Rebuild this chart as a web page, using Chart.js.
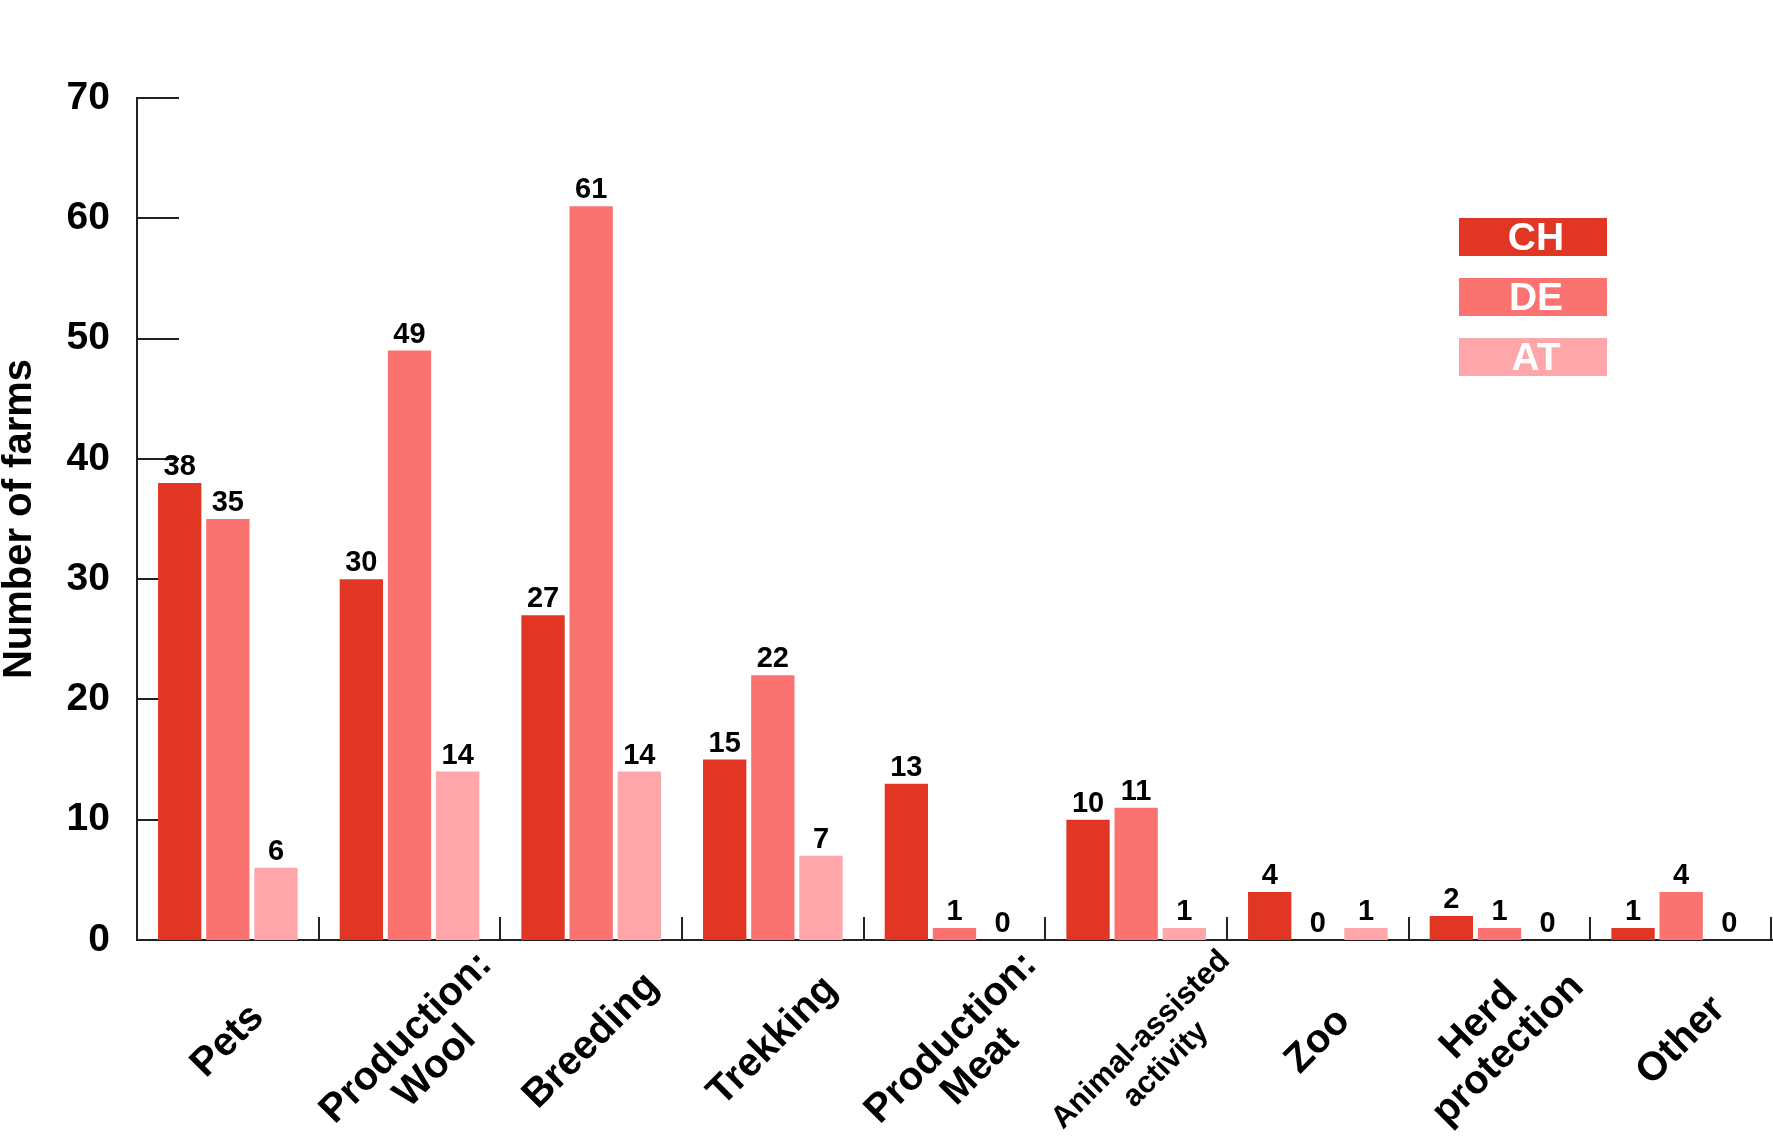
<!DOCTYPE html>
<html>
<head>
<meta charset="utf-8">
<script src="https://cdn.jsdelivr.net/npm/chart.js@4.4.1/dist/chart.umd.min.js"></script>
<style>
  html, body { margin: 0; padding: 0; background: #fff; }
  #wrap { width: 1773px; height: 1141px; }
</style>
</head>
<body>
<div id="wrap"><canvas id="farmChart" width="1773" height="1141"></canvas></div>
<script>
// Categories (multi-line labels as arrays)
const categories = [
    ['Pets'],
    ['Production:', 'Wool'],
    ['Breeding'],
    ['Trekking'],
    ['Production:', 'Meat'],
    ['Animal-assisted', 'activity'],
    ['Zoo'],
    ['Herd', 'protection'],
    ['Other']
];

// Series values
const chValues = [38, 30, 27, 15, 13, 10, 4, 2, 1];
const deValues = [35, 49, 61, 22, 1, 11, 0, 1, 4];
const atValues = [6, 14, 14, 7, 0, 1, 1, 0, 0];

// Y axis range
const yMin = 0;
const yMax = 70;
const yStep = 10;

const FONT = '"Liberation Sans", Arial, Helvetica, sans-serif';
const AXIS_COLOR = '#222';

// Inner ticks on the y axis and divider ticks on the x axis
const axisTicks = {
    id: 'axisTicks',
    beforeDatasetsDraw(chart) {
        const ctx = chart.ctx;
        const y = chart.scales.y;
        const x = chart.scales.x;
        ctx.save();
        ctx.strokeStyle = AXIS_COLOR;
        ctx.lineWidth = 2;
        ctx.beginPath();
        y.ticks.forEach(t => {
            const py = Math.round(y.getPixelForValue(t.value));
            ctx.moveTo(y.right, py);
            ctx.lineTo(y.right + 42, py);
        });
        const bottom = x.top;
        const n = chart.data.labels.length;
        for (let i = 1; i <= n; i++) {
            let px;
            if (i < n) {
                px = (x.getPixelForValue(i - 1) + x.getPixelForValue(i)) / 2;
            } else {
                px = chart.chartArea.right - 1;
            }
            px = Math.round(px);
            ctx.moveTo(px, bottom);
            ctx.lineTo(px, bottom - 23);
        }
        ctx.stroke();
        ctx.restore();
    }
};

// Value labels above bars
const valueLabels = {
    id: 'valueLabels',
    afterDatasetsDraw(chart) {
        const ctx = chart.ctx;
        ctx.save();
        ctx.fillStyle = '#000';
        ctx.font = 'bold 29px ' + FONT;
        ctx.textAlign = 'center';
        ctx.textBaseline = 'alphabetic';
        chart.data.datasets.forEach((ds, di) => {
            const meta = chart.getDatasetMeta(di);
            meta.data.forEach((bar, i) => {
                ctx.fillText(String(ds.data[i]), bar.x, bar.y - 8);
            });
        });
        ctx.restore();
    }
};

// Rotated, centered category labels
const categoryLabels = {
    id: 'categoryLabels',
    afterDraw(chart) {
        const ctx = chart.ctx;
        const x = chart.scales.x;
        ctx.save();
        ctx.fillStyle = '#000';
        ctx.textAlign = 'center';
        ctx.textBaseline = 'middle';
        chart.data.labels.forEach((lines, i) => {
            const small = lines[0].length > 12;
            const size = small ? 31 : 40;
            const lh = small ? 35 : 41;
            ctx.font = 'bold ' + size + 'px ' + FONT;
            const cx = x.getPixelForValue(i) + (small ? 6 : 0);
            const cy = x.top + 101;
            // shift multi-line blocks along the label's normal
            let shift = 0;
            if (lines.length > 1) {
                shift = lines[0].length > lines[1].length ? 16 : -8;
            }
            ctx.save();
            ctx.translate(cx, cy);
            ctx.rotate(-Math.PI / 4);
            const start = -(lines.length - 1) * lh / 2 + shift;
            lines.forEach((line, k) => {
                ctx.fillText(line, 0, start + k * lh);
            });
            ctx.restore();
        });
        ctx.restore();
    }
};

// Legend: colored boxes with the label written inside
const boxLegend = {
    id: 'boxLegend',
    afterDraw(chart) {
        const ctx = chart.ctx;
        const left = 1459, top = 218, w = 148, h = 38, gap = 60;
        ctx.save();
        ctx.font = 'bold 39px ' + FONT;
        ctx.textAlign = 'center';
        ctx.textBaseline = 'middle';
        chart.data.datasets.forEach((ds, i) => {
            const y = top + i * gap;
            ctx.fillStyle = ds.backgroundColor;
            ctx.fillRect(left, y, w, h);
            ctx.fillStyle = '#fff';
            ctx.fillText(ds.label, left + w / 2 + 3, y + h / 2 + 2);
        });
        ctx.restore();
    }
};

const ctx = document.getElementById('farmChart').getContext('2d');
const farmChart = new Chart(ctx, {
    type: 'bar',
    data: {
        labels: categories,
        datasets: [
            { label: 'CH', data: chValues, backgroundColor: '#e13624' },
            { label: 'DE', data: deValues, backgroundColor: '#fa7370' },
            { label: 'AT', data: atValues, backgroundColor: '#fea6a9' }
        ]
    },
    options: {
        responsive: false,
        animation: false,
        layout: { padding: { top: 98, right: 1, left: 0, bottom: 0 } },
        datasets: {
            bar: { categoryPercentage: 0.795, barPercentage: 0.9 }
        },
        plugins: {
            legend: { display: false },
            tooltip: { enabled: false }
        },
        scales: {
            x: {
                grid: { display: false, drawTicks: false },
                border: { display: true, color: AXIS_COLOR, width: 2 },
                ticks: { display: false },
                afterFit(scale) { scale.height = 201; }
            },
            y: {
                min: yMin,
                max: yMax,
                grid: { display: false, drawTicks: false },
                border: { display: true, color: AXIS_COLOR, width: 2 },
                ticks: {
                    stepSize: yStep,
                    padding: 27,
                    color: '#000',
                    font: { family: FONT, size: 39, weight: 'bold' }
                },
                title: {
                    display: true,
                    text: 'Number of farms',
                    color: '#000',
                    padding: { top: 0, bottom: 0 },
                    font: { family: FONT, size: 40, weight: 'bold', lineHeight: 1.0 }
                },
                afterFit(scale) { scale.width = 137; }
            }
        }
    },
    plugins: [axisTicks, valueLabels, categoryLabels, boxLegend]
});
</script>
</body>
</html>
